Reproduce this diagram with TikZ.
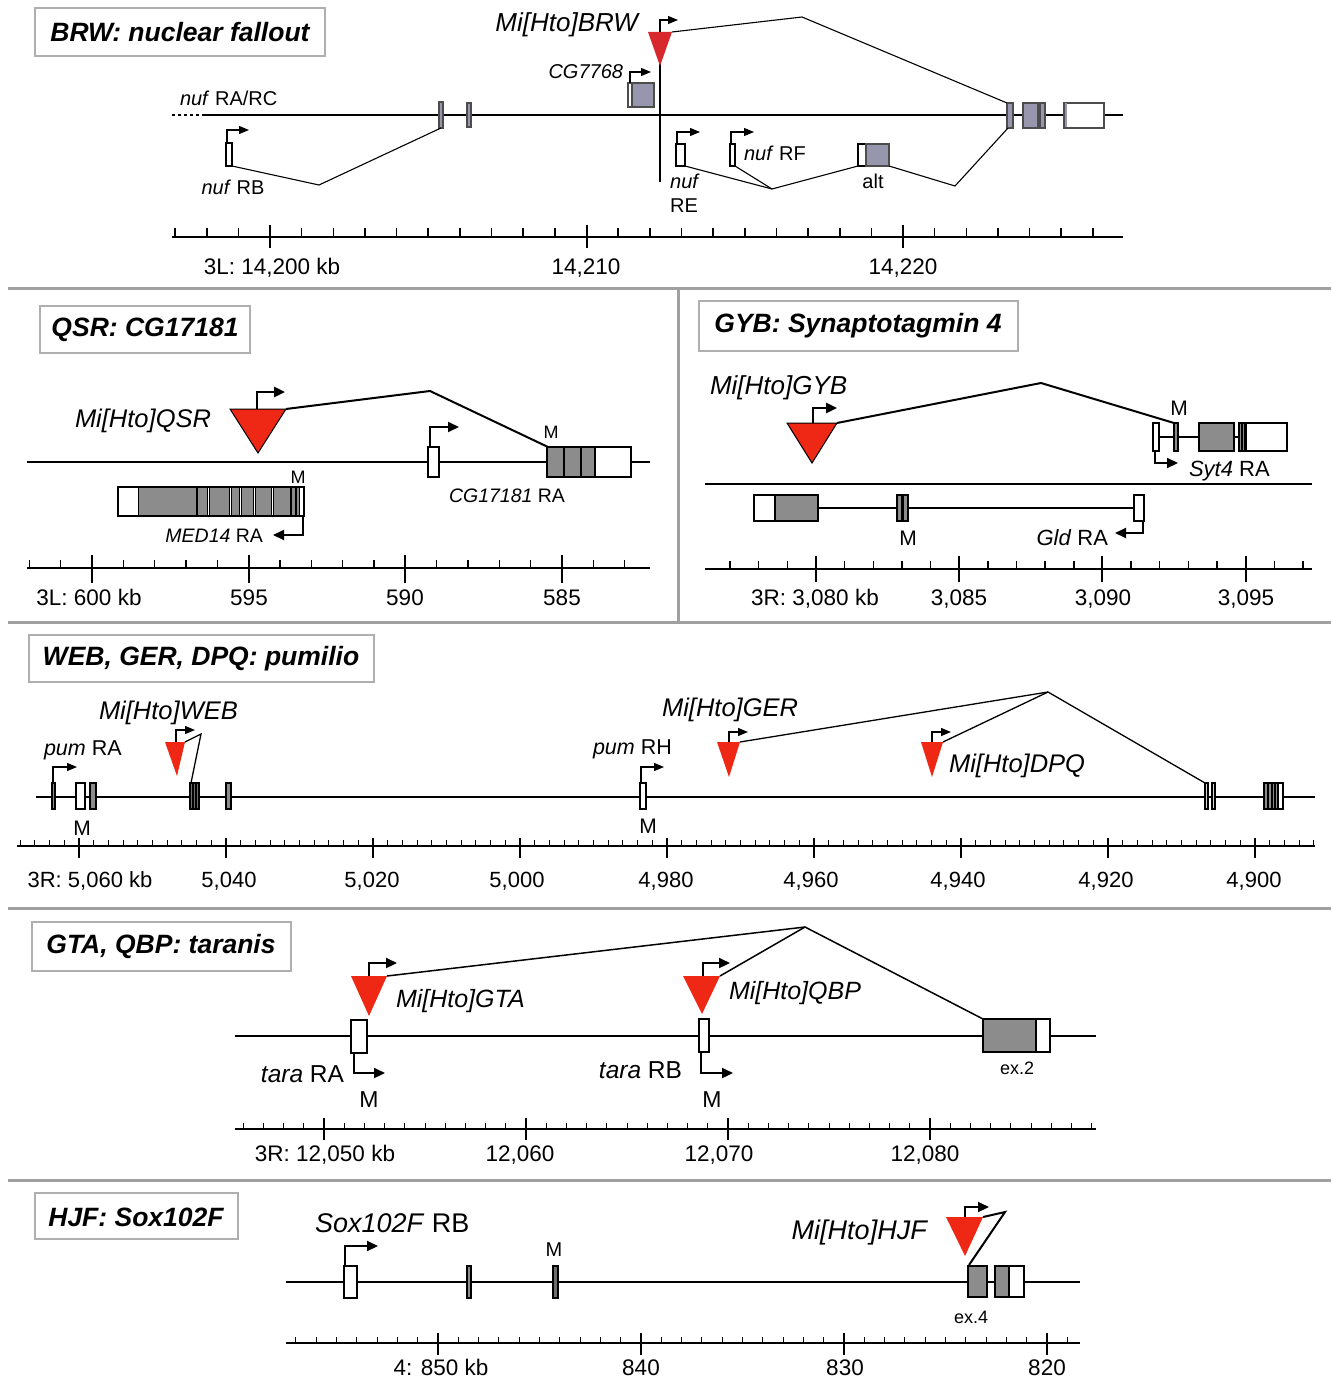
\documentclass[tikz,border=0pt]{standalone}
\usepackage{fontspec}
\setmainfont{Liberation Sans}
\usetikzlibrary{arrows.meta}
\newcommand\fsz[1]{\fontsize{#1}{#1}\selectfont}
\definecolor{sepgray}{RGB}{160,160,160}
\definecolor{boxgray}{RGB}{175,175,175}
\definecolor{exgray}{RGB}{140,140,140}
\definecolor{exdark}{RGB}{110,110,110}
\definecolor{brwgray}{RGB}{150,150,172}
\definecolor{tred}{RGB}{238,40,20}
\definecolor{bred}{RGB}{215,40,45}
\tikzset{
  every node/.style={inner sep=0pt, outer sep=0pt},
  sepline/.style={draw=sepgray, line width=3pt},
  titlebox/.style={draw=boxgray, line width=1.5pt, fill=white},
  titletext/.style={font=\fsz{26.5}\bfseries\itshape},
  lab/.style={font=\fsz{#1}},
  ins/.style={fill=tred, draw=black, line width=1pt, line join=miter},
  prom/.style={-{Triangle[length=10pt,width=8pt]}, line join=miter},
  promthick/.style={-{Triangle[length=11pt,width=10pt]}, line width=2.6pt, line join=miter},
  exwhite/.style={fill=white, draw=black},
  exgrey/.style={fill=exgray, draw=black},
  exbrw/.style={fill=brwgray, draw=black!70},
}
\begin{document}
\begin{tikzpicture}[x=1pt,y=-1pt]
\useasboundingbox (0,0) rectangle (1331,1380);
\fill[white] (0,0) rectangle (1331,1380);

% ---------- separators ----------
\draw[sepline] (8,288) -- (1331,288);
\draw[sepline] (678,288) -- (678,622);
\draw[sepline] (8,622) -- (1331,622);
\draw[sepline] (8,908) -- (1331,908);
\draw[sepline] (8,1180) -- (1331,1180);

% ================= Panel 1: BRW =================
\draw[titlebox] (35,8) rectangle (325,56);
\node[titletext] (t1) at (180,32) {BRW: nuclear fallout};
\begin{scope}[line width=1.1pt]
\draw[dashed] (172,115) -- (205,115);
\draw (205,115) -- (1123,115);
\node[lab=20, anchor=base west] (nufra) at (180,106) {\textit{nuf} RA/RC};
% exons
\draw[exbrw] (439,102) rectangle (443,128);
\draw[exbrw] (467,103) rectangle (471,127);
\draw[exbrw] (1007,103) rectangle (1013,128);
\draw[exbrw] (1023,103) rectangle (1038,128);
\draw[exbrw] (1040,103) rectangle (1045,128);
\draw[exwhite, draw=black!70] (1064,103) rectangle (1104,128);
\fill[brwgray] (1064.5,103.5) rectangle (1067,127.5);
% CG7768
\draw[exwhite, draw=black!70] (628,83) rectangle (654,107);
\draw[exbrw] (632,83) rectangle (654,107);
\draw[prom] (630,83) -- (630,72) -- (651,72);
\node[lab=20, anchor=base east] (cg77) at (623,79) {\textit{CG7768}};
% insertion
\draw (660,60) -- (660,182);
\fill[bred] (648,32) -- (672,32) -- (660,66) -- cycle;
\draw[prom] (660,32) -- (660,20) -- (678,20);
\draw (672,32) -- (802,17) -- (1007,103);
\node[lab=26, anchor=base east] (mibrw) at (640,32) {\textit{Mi[Hto]BRW}};
% nuf RB
\draw[exwhite] (226,143) rectangle (232,166);
\draw[prom] (227,143) -- (227,130) -- (249,130);
\draw (232,166) -- (319,185) -- (441,128);
\node[lab=20, anchor=base] (nufrb) at (233,195) {\textit{nuf} RB};
% nuf RE
\draw[exwhite] (676,144) rectangle (685,166);
\draw[prom] (677,144) -- (677,132) -- (700,132);
\node[lab=20, anchor=base] (nufre1) at (685,189) {\textit{nuf}};
\node[lab=20, anchor=base] (nufre2) at (684,213) {RE};
% nuf RF
\draw[exwhite] (730,144) rectangle (735,166);
\draw[prom] (731,144) -- (731,132) -- (754,132);
\node[lab=20, anchor=base west] (nufrf) at (744,161) {\textit{nuf} RF};
\draw (685,166) -- (772,189);
\draw (735,166) -- (772,189) -- (858,166);
% alt
\draw[exwhite] (858,144) rectangle (889,166);
\draw[exbrw] (866,144) rectangle (889,166);
\node[lab=20, anchor=base] (alt) at (873,189) {alt};
\draw (889,166) -- (955,186) -- (1008,128);
\end{scope}
% scale
\draw[line width=2.5pt] (172,237) -- (1123,237);
\foreach \n in {-3,...,26} \draw[line width=1.6pt] ({270+31.65*\n},237) -- ({270+31.65*\n},228);
\foreach \xx in {270,586.5,903} \draw[line width=2pt] (\xx,225) -- (\xx,248);
\node[lab=22.5, anchor=base] (s1a) at (272,274) {3L: 14,200 kb};
\node[lab=22.5, anchor=base] (s1b) at (586,274) {14,210};
\node[lab=22.5, anchor=base] (s1c) at (903,274) {14,220};

% ================= Panel 2: QSR =================
\draw[titlebox] (40,306) rectangle (250,353);
\node[titletext] (t2) at (145,330) {QSR: CG17181};
\begin{scope}[line width=2pt]
\draw (27,462) -- (650,462);
\draw[ins] (230,409) -- (286,409) -- (258,453) -- cycle;
\draw[promthick] (257,409) -- (257,392) -- (285,392);
\draw (286,409) -- (430,391) -- (548,447);
\end{scope}
\node[lab=25.5, anchor=base west] (miqsr) at (75,427) {\textit{Mi[Hto]QSR}};
\begin{scope}[line width=1.2pt]
\draw[exwhite] (428,447) rectangle (439,477);
\draw[promthick, line width=2pt] (430,447) -- (430,427) -- (459,427);
\draw[exgrey] (547,447) rectangle (564,477);
\draw[exgrey] (564,447) rectangle (581,477);
\draw[exgrey] (581,447) rectangle (595,477);
\draw[exwhite] (595,447) rectangle (631,477);
\node[lab=18, anchor=base] (mq1) at (551,438) {M};
\node[lab=19.5, anchor=base west] (cg171) at (449,502) {\textit{CG17181} RA};
% MED14
\draw[exwhite] (118,487) rectangle (304,516);
\begin{scope}[line width=0.8pt]
\draw[exgrey] (138,487) rectangle (196,516);
\draw[exgrey] (197,487) rectangle (207,516);
\draw[exgrey] (209,487) rectangle (229,516);
\draw[exgrey] (231,487) rectangle (239,516);
\draw[exgrey] (241,487) rectangle (253,516);
\draw[exgrey] (255,487) rectangle (271,516);
\draw[exgrey] (273,487) rectangle (290,516);
\draw[exgrey] (291,487) rectangle (295,516);
\draw[exgrey] (296,487) rectangle (299,516);
\end{scope}
\draw (118,487) rectangle (304,516);
\node[lab=18, anchor=base] (mq2) at (298,483) {M};
\draw[promthick, line width=2pt] (303,516) -- (303,535) -- (273,535);
\node[lab=19.5, anchor=base east] (med) at (263,542) {\textit{MED14} RA};
\end{scope}
\draw[line width=2pt] (27,568) -- (650,568);
\foreach \n in {-2,...,17} \draw[line width=1.5pt] ({92+31.33*\n},568) -- ({92+31.33*\n},560);
\foreach \xx in {92,248.6,405.3,562} \draw[line width=2pt] (\xx,555) -- (\xx,583);
\node[lab=22.5, anchor=base] (s2a) at (89,605) {3L: 600 kb};
\node[lab=22.5, anchor=base] (s2b) at (249,605) {595};
\node[lab=22.5, anchor=base] (s2c) at (405,605) {590};
\node[lab=22.5, anchor=base] (s2d) at (562,605) {585};

% ================= Panel 3: GYB =================
\draw[titlebox] (699,301) rectangle (1018,351);
\node[titletext] (t3) at (858,326) {GYB: Synaptotagmin 4};
\node[lab=26, anchor=base west] (migyb) at (710,394) {\textit{Mi[Hto]GYB}};
\begin{scope}[line width=2pt]
\draw[ins] (787,423) -- (837,423) -- (812,463) -- cycle;
\draw[promthick] (813,423) -- (813,408) -- (837,408);
\draw (837,423) -- (1041,383) -- (1174,423);
\draw (705,484) -- (1312,484);
\draw (1156,437) -- (1246,437);
\draw (818,508) -- (1134,508);
\end{scope}
\begin{scope}[line width=1.3pt]
\draw[exwhite] (1153,423) rectangle (1159,451);
\draw[exgrey] (1174,423) rectangle (1178,451);
\draw[exgrey] (1199,423) rectangle (1234,451);
\draw[exgrey] (1239,423) rectangle (1242,451);
\draw[exgrey] (1242,423) rectangle (1245,451);
\draw[exwhite] (1246,423) rectangle (1287,451);
\draw[promthick, line width=2pt] (1155,451) -- (1155,463) -- (1178,463);
\draw[exwhite] (754,495) rectangle (775,521);
\draw[exgrey] (775,495) rectangle (818,521);
\draw[exgrey] (897,495) rectangle (902,521);
\draw[exgrey] (903,495) rectangle (908,521);
\draw[exwhite] (1134,495) rectangle (1144,521);
\draw[promthick, line width=2pt] (1143,521) -- (1143,533) -- (1115,533);
\end{scope}
\node[lab=21, anchor=base] (mg1) at (1179,415) {M};
\node[lab=22, anchor=base west] (syt) at (1189,476) {\textit{Syt4} RA};
\node[lab=21, anchor=base] (mg2) at (908,545) {M};
\node[lab=22, anchor=base east] (gld) at (1108,545) {\textit{Gld} RA};
\draw[line width=2pt] (705,569) -- (1312,569);
\foreach \n in {-3,...,17} \draw[line width=1.5pt] ({816+28.64*\n},569) -- ({816+28.64*\n},561);
\foreach \xx in {816,959.2,1102.4,1245.6} \draw[line width=2pt] (\xx,556) -- (\xx,582);
\node[lab=22.5, anchor=base] (s3a) at (815,605) {3R: 3,080 kb};
\node[lab=22.5, anchor=base] (s3b) at (959,605) {3,085};
\node[lab=22.5, anchor=base] (s3c) at (1103,605) {3,090};
\node[lab=22.5, anchor=base] (s3d) at (1246,605) {3,095};

% ================= Panel 4: WEB / GER / DPQ =================
\draw[titlebox] (29,635) rectangle (374,682);
\node[titletext] (t4) at (201,659) {WEB, GER, DPQ: pumilio};
\begin{scope}[line width=1.3pt]
\draw (36,797) -- (1315,797);
\draw[exgrey] (52,783) rectangle (55,809);
\draw[prom] (53,783) -- (53,767) -- (77,767);
\draw[exwhite] (76,783) rectangle (85,809);
\draw[exgrey] (90,783) rectangle (96,809);
% WEB
\fill[tred] (165,742) -- (185,742) -- (177,776) -- cycle;
\draw[prom] (176,742) -- (176,730) -- (195,730);
\draw (185,742) -- (201,734) -- (191,783);
\draw[fill=exdark] (190,783) rectangle (199,809);
\draw (193,783) -- (193,809) (196,783) -- (196,809);
\draw[exgrey] (226,783) rectangle (231,809);
% pum RH
\draw[exwhite] (640,783) rectangle (646,809);
\draw[prom] (641,783) -- (641,767) -- (664,767);
% GER, DPQ
\fill[tred] (717,742) -- (740,742) -- (729,777) -- cycle;
\draw[prom] (729,742) -- (729,732) -- (748,732);
\fill[tred] (921,742) -- (943,742) -- (932,777) -- cycle;
\draw[prom] (932,742) -- (932,732) -- (951,732);
\draw (740,742) -- (1048,692);
\draw (943,742) -- (1048,692) -- (1205,783);
\draw[exwhite, fill=black!15] (1205,783) rectangle (1208,809);
\draw[exwhite, fill=black!15] (1212,783) rectangle (1215,809);
\draw[exgrey] (1264,783) rectangle (1283,809);
\draw[exwhite] (1278,783) rectangle (1283,809);
\draw (1268,783) -- (1268,809) (1272,783) -- (1272,809) (1275,783) -- (1275,809);
\end{scope}
\node[lab=21.5, anchor=base west] (pumra) at (44,755) {\textit{pum} RA};
\node[lab=21, anchor=base] (mw1) at (82,835) {M};
\node[lab=25.5, anchor=base west] (miweb) at (99,719) {\textit{Mi[Hto]WEB}};
\node[lab=21.5, anchor=base west] (pumrh) at (593,754) {\textit{pum} RH};
\node[lab=21, anchor=base] (mw2) at (648,833) {M};
\node[lab=25.5, anchor=base west] (miger) at (662,716) {\textit{Mi[Hto]GER}};
\node[lab=25.5, anchor=base west] (midpq) at (949,772) {\textit{Mi[Hto]DPQ}};
\draw[line width=1.5pt] (17,846) -- (1315,846);
\foreach \n in {-4,...,84} \draw[line width=1pt] ({79+14.7*\n},846) -- ({79+14.7*\n},840);
\foreach \k in {0,...,8} \draw[line width=1.5pt] ({79+147*\k},838) -- ({79+147*\k},858);
\node[lab=22, anchor=base] (s4a) at (90,887) {3R: 5,060 kb};
\node[lab=22, anchor=base] (s4b) at (229,887) {5,040};
\node[lab=22, anchor=base] (s4c) at (372,887) {5,020};
\node[lab=22, anchor=base] (s4d) at (517,887) {5,000};
\node[lab=22, anchor=base] (s4e) at (666,887) {4,980};
\node[lab=22, anchor=base] (s4f) at (811,887) {4,960};
\node[lab=22, anchor=base] (s4g) at (958,887) {4,940};
\node[lab=22, anchor=base] (s4h) at (1106,887) {4,920};
\node[lab=22, anchor=base] (s4i) at (1254,887) {4,900};

% ================= Panel 5: GTA / QBP =================
\draw[titlebox] (32,922) rectangle (291,971);
\node[titletext] (t5) at (161,946) {GTA, QBP: taranis};
\begin{scope}[line width=1.5pt]
\draw (235,1036) -- (1096,1036);
\draw[exwhite] (351,1020) rectangle (367,1053);
\fill[tred] (351,976) -- (387,976) -- (369,1016) -- cycle;
\draw[promthick, line width=2.2pt] (369,976) -- (369,963) -- (397,963);
\draw (387,976) -- (805,927) -- (983,1019);
\draw[promthick, line width=2.2pt] (354,1053) -- (354,1073) -- (385,1073);
\draw[exwhite] (699,1019) rectangle (709,1052);
\fill[tred] (683,976) -- (720,976) -- (702,1014) -- cycle;
\draw[promthick, line width=2.2pt] (703,976) -- (703,963) -- (730,963);
\draw (720,976) -- (805,927);
\draw[promthick, line width=2.2pt] (701,1052) -- (701,1073) -- (733,1073);
\draw[exgrey] (983,1019) rectangle (1036,1052);
\draw[exwhite] (1036,1019) rectangle (1050,1052);
\end{scope}
\node[lab=25, anchor=base west] (migta) at (396,1007) {\textit{Mi[Hto]GTA}};
\node[lab=25, anchor=base west] (miqbp) at (729,999) {\textit{Mi[Hto]QBP}};
\node[lab=24.5, anchor=base east] (tara) at (344,1082) {\textit{tara} RA};
\node[lab=24.5, anchor=base east] (tarb) at (682,1078) {\textit{tara} RB};
\node[lab=23, anchor=base] (mt1) at (369,1107) {M};
\node[lab=23, anchor=base] (mt2) at (712,1107) {M};
\node[lab=18, anchor=base] (ex2) at (1017,1074) {ex.2};
\draw[line width=1.5pt] (235,1129) -- (1096,1129);
\foreach \n in {-4,...,38} \draw[line width=1pt] ({324+20.2*\n},1129) -- ({324+20.2*\n},1123);
\foreach \xx in {324,526,728,930} \draw[line width=1.5pt] (\xx,1118) -- (\xx,1140);
\node[lab=22.5, anchor=base] (s5a) at (325,1161) {3R: 12,050 kb};
\node[lab=22.5, anchor=base] (s5b) at (520,1161) {12,060};
\node[lab=22.5, anchor=base] (s5c) at (719,1161) {12,070};
\node[lab=22.5, anchor=base] (s5d) at (925,1161) {12,080};

% ================= Panel 6: HJF =================
\draw[titlebox] (35,1193) rectangle (238,1239);
\node[titletext] (t6) at (136,1217) {HJF: Sox102F};
\begin{scope}[line width=1.5pt]
\draw (286,1282) -- (1080,1282);
\draw[exwhite] (344,1266) rectangle (357,1298);
\draw[promthick, line width=2pt] (345,1266) -- (345,1246) -- (378,1246);
\draw[exgrey] (467,1266) rectangle (471,1298);
\draw[fill=exdark, draw=black] (553,1266) rectangle (558,1298);
\fill[tred] (946,1217) -- (983,1217) -- (965,1256) -- cycle;
\draw[promthick, line width=2pt] (965,1217) -- (965,1207) -- (989,1207);
\draw[line width=2pt] (983,1217) -- (1005,1212) -- (969,1265);
\draw[exgrey] (968,1266) rectangle (987,1297);
\draw[exgrey] (995,1266) rectangle (1009,1297);
\draw[exwhite] (1009,1266) rectangle (1024,1297);
\end{scope}
\node[lab=27, anchor=base west] (soxrb) at (315,1232) {\textit{Sox102F} RB};
\node[lab=20, anchor=base] (mh) at (554,1256) {M};
\node[lab=27, anchor=base east] (mihjf) at (928,1239) {\textit{Mi[Hto]HJF}};
\node[lab=18, anchor=base] (ex4) at (971,1323) {ex.4};
\draw[line width=1.5pt] (286,1343) -- (1080,1343);
\foreach \n in {-7,...,31} \draw[line width=1pt] ({438+20.3*\n},1343) -- ({438+20.3*\n},1337);
\foreach \xx in {438,641,844,1047} \draw[line width=1.5pt] (\xx,1333) -- (\xx,1355);
\node[lab=22.5, anchor=base] (s6a) at (441,1375) {4: 850 kb};
\node[lab=22.5, anchor=base] (s6b) at (641,1375) {840};
\node[lab=22.5, anchor=base] (s6c) at (845,1375) {830};
\node[lab=22.5, anchor=base] (s6d) at (1047,1375) {820};
\end{tikzpicture}
\end{document}
